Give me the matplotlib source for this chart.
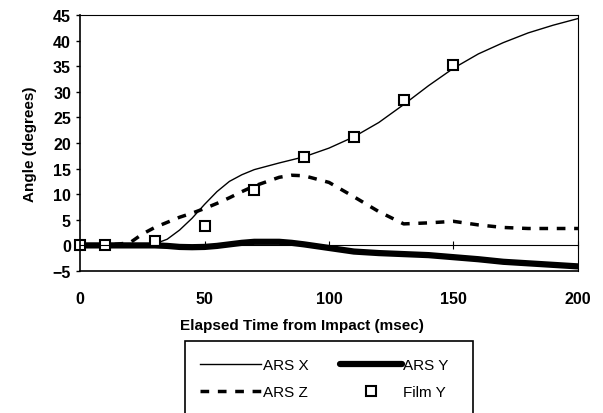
import matplotlib.pyplot as plt
from matplotlib.patches import Rectangle
from matplotlib.lines import Line2D

plt.rcParams['font.family'] = ['Liberation Sans', 'DejaVu Sans']

# ARS traces
t = [0, 10, 20, 25, 30, 35, 40, 45, 50, 55, 60, 65, 70, 80, 85, 90, 100, 110,
     120, 130, 140, 150, 160, 170, 180, 190, 200]
ars_x = [0, 0, 0, 0, 0.3, 1.2, 3, 5.3, 8, 10.5, 12.5, 13.8, 14.8, 16.1, 16.7,
         17.3, 19, 21.2, 24, 27.5, 31.2, 34.6, 37.4, 39.6, 41.5, 43, 44.3]
ars_z = [0, 0, 0.5, 2.2, 3.5, 4.5, 5.5, 6.3, 7.2, 8.2, 9.3, 10.5, 11.6, 13.3,
         13.7, 13.6, 12.3, 9.5, 6.6, 4.2, 4.4, 4.7, 4.0, 3.5, 3.3, 3.3, 3.3]
ars_y = [0, 0, 0, 0, 0, -0.1, -0.3, -0.35, -0.3, -0.1, 0.2, 0.5, 0.7, 0.7,
         0.5, 0.2, -0.5, -1.2, -1.5, -1.7, -1.9, -2.3, -2.7, -3.2, -3.5, -3.8, -4.1]

# Film Y points
film_t = [0, 10, 30, 50, 70, 90, 110, 130, 150]
film_y = [0, 0, 0.9, 3.7, 10.9, 17.3, 21.2, 28.4, 35.3]

fig = plt.figure(figsize=(6.03, 4.14), dpi=100)
ax = fig.add_axes([0.1327, 0.343, 0.8258, 0.6184])

ax.plot(t, ars_x, color='black', lw=1.0)
ax.plot(t, ars_y, color='black', lw=4.5, solid_capstyle='round')
ax.plot(t, ars_z, color='black', lw=2.5, dashes=(2.5, 2.5))
ax.plot(film_t, film_y, 's', mfc='white', mec='black', ms=7.5, mew=1.5,
        clip_on=False)

ax.set_xlim(0, 200)
ax.set_ylim(-5, 45)
ax.set_yticks(range(-5, 46, 5))
ax.set_xticks([0, 50, 100, 150, 200])

# category axis crosses at zero, like the original
ax.spines['bottom'].set_position(('data', 0))
ax.spines['bottom'].set_linewidth(0.8)
ax.axhline(-5, color='black', lw=1.2, clip_on=False)
ax.spines['left'].set_linewidth(1.2)
ax.spines['top'].set_linewidth(0.8)
ax.spines['right'].set_linewidth(0.8)

ax.tick_params(axis='x', direction='inout', length=6, width=0.8, pad=30,
               labelsize=11.5)
ax.tick_params(axis='y', direction='out', length=3, width=1, labelsize=11.5)
for lab in ax.get_xticklabels() + ax.get_yticklabels():
    lab.set_fontweight('bold')

ax.set_ylabel('Angle (degrees)', fontsize=11, fontweight='bold', labelpad=11)
fig.text(0.5, 1 - 326 / 414, 'Elapsed Time from Impact (msec)', fontsize=11,
         fontweight='bold', ha='center', va='center')

# legend box runs off the bottom of the image
fig.patches.append(Rectangle((185 / 603, -0.05), (473 - 185) / 603,
                             1 - 342 / 414 + 0.05, transform=fig.transFigure,
                             fill=False, ec='black', lw=1.2))
handles = [Line2D([], [], color='black', lw=1.0),
           Line2D([], [], color='black', lw=2.5, dashes=(2.5, 2.5)),
           Line2D([], [], color='black', lw=4.5, solid_capstyle='round'),
           Line2D([], [], ls='none', marker='s', mfc='white', mec='black',
                  ms=7, mew=1.5)]
labels = ['ARS X', 'ARS Z', 'ARS Y', 'Film Y']
fig.legend(handles, labels, ncol=2, frameon=False, fontsize=11,
           loc='upper left', bbox_to_anchor=(194 / 603, 1 - 353 / 414),
           handlelength=4.0, handletextpad=0.1, columnspacing=2.1,
           labelspacing=0.85, borderaxespad=0)

fig.savefig('out.png', dpi=100)
